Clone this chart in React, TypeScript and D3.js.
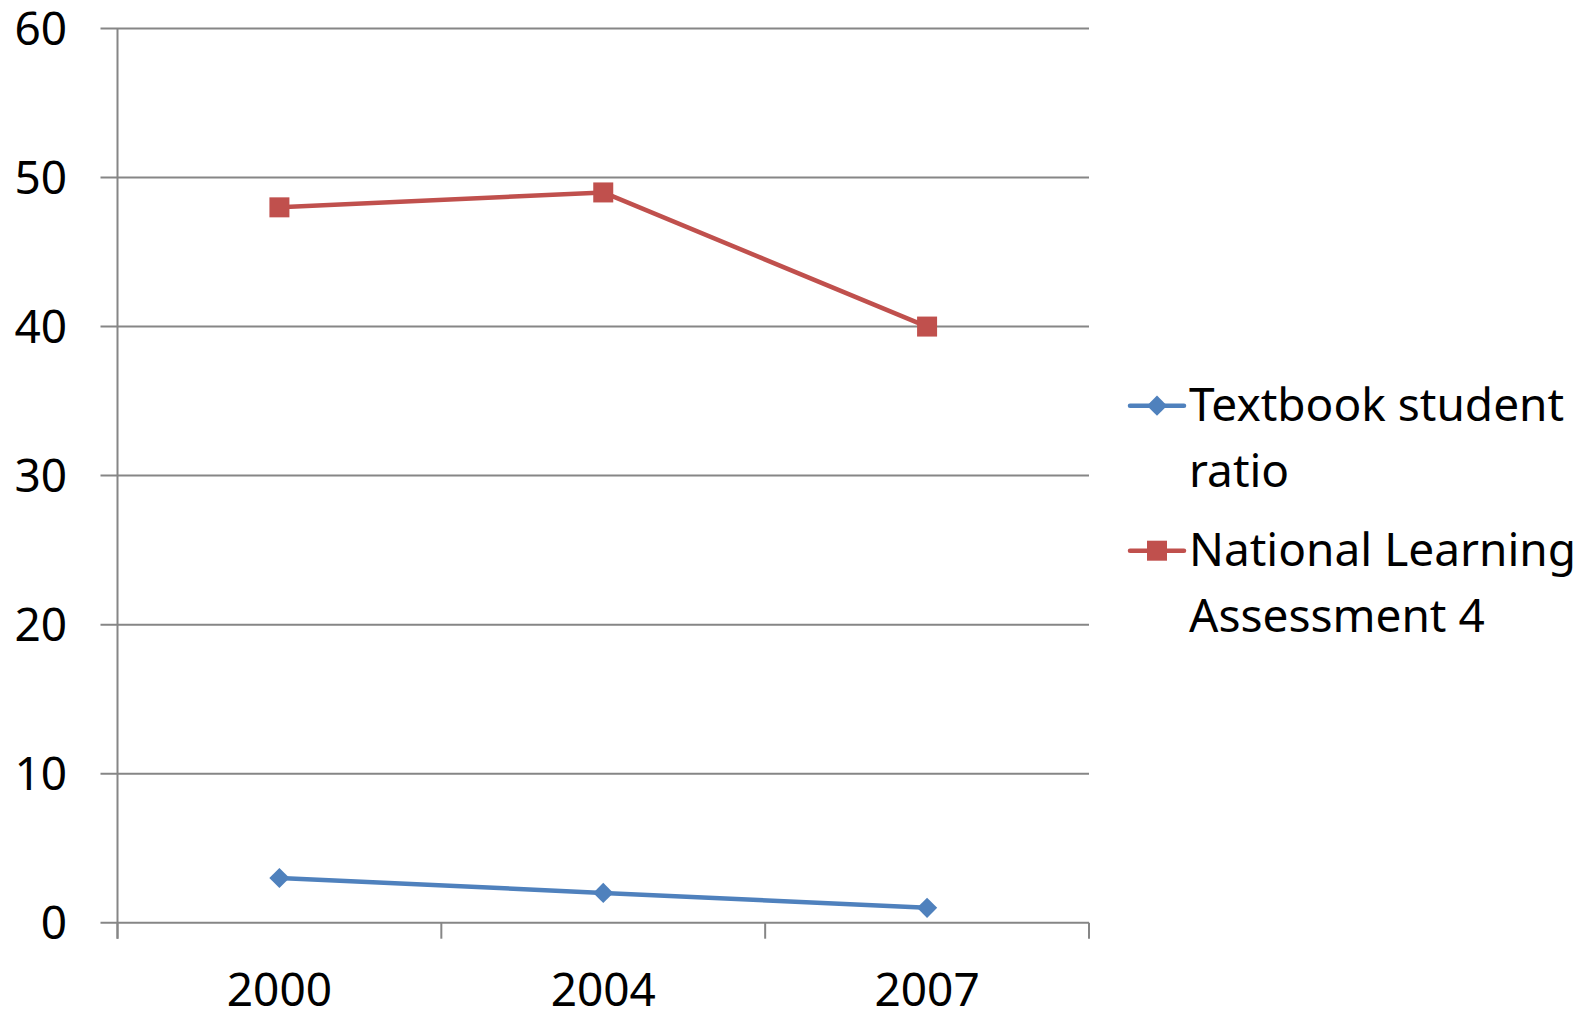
import { useEffect, useRef } from 'react';
import * as d3 from 'd3';

const years = ['2000', '2004', '2007'];
const textbookRatio = [3, 2, 1];
const nla4 = [48, 49, 40];
const yTicks = [0, 10, 20, 30, 40, 50, 60];

const seriesList = [
  { name: ['Textbook student', 'ratio'], values: textbookRatio, color: '#4F81BD', marker: 'diamond' },
  { name: ['National Learning', 'Assessment 4'], values: nla4, color: '#C0504D', marker: 'square' },
];

const App = () => {
  const svgRef = useRef<SVGSVGElement>(null);

  useEffect(() => {
    if (!svgRef.current) return;
    const svg = d3.select(svgRef.current);
    svg.selectAll('*').remove();

    const width = 1585;
    const height = 1018;
    const plot = { left: 117.5, right: 1089, top: 28.5, bottom: 922.7 };
    const font = "'Noto Sans', 'Open Sans', sans-serif";
    const fontSize = '46px';
    const gridColor = '#868686';

    svg.attr('width', width).attr('height', height);
    svg.append('rect').attr('width', width).attr('height', height).attr('fill', '#fff');

    const x = d3.scaleBand().domain(years).range([plot.left, plot.right]);
    const y = d3.scaleLinear().domain([0, 60]).range([plot.bottom, plot.top]);

    // gridlines + y labels
    const yg = svg.append('g');
    yg.selectAll('line')
      .data(yTicks)
      .join('line')
      .attr('x1', plot.left - 17)
      .attr('x2', plot.right)
      .attr('y1', d => y(d))
      .attr('y2', d => y(d))
      .attr('stroke', gridColor)
      .attr('stroke-width', 2);
    yg.selectAll('text')
      .data(yTicks)
      .join('text')
      .attr('x', 67)
      .attr('y', d => y(d))
      .attr('dy', '0.36em')
      .attr('text-anchor', 'end')
      .style('font-family', font)
      .style('font-size', fontSize)
      .style('fill', '#000')
      .text(d => d);

    // y axis line
    svg.append('line')
      .attr('x1', plot.left).attr('x2', plot.left)
      .attr('y1', plot.top).attr('y2', plot.bottom + 16)
      .attr('stroke', gridColor).attr('stroke-width', 2);

    // x tick marks at band edges
    const edges = years.map(d => x(d) as number).concat([plot.right]);
    svg.append('g').selectAll('line')
      .data(edges)
      .join('line')
      .attr('x1', d => d).attr('x2', d => d)
      .attr('y1', plot.bottom).attr('y2', plot.bottom + 16)
      .attr('stroke', gridColor).attr('stroke-width', 2);

    // x labels
    svg.append('g').selectAll('text')
      .data(years)
      .join('text')
      .attr('x', d => (x(d) as number) + x.bandwidth() / 2)
      .attr('y', 1005.7)
      .attr('text-anchor', 'middle')
      .style('font-family', font)
      .style('font-size', fontSize)
      .style('fill', '#000')
      .text(d => d);

    const cx = (i: number) => (x(years[i]) as number) + x.bandwidth() / 2;
    const line = d3.line<number>().x((_, i) => cx(i)).y(d => y(d));

    const drawMarker = (g: any, kind: string, color: string, px: number, py: number) => {
      if (kind === 'square') {
        g.append('rect')
          .attr('x', px - 10).attr('y', py - 10)
          .attr('width', 20).attr('height', 20)
          .attr('fill', color);
      } else {
        g.append('path')
          .attr('d', d3.symbol(d3.symbolDiamond2, 260)())
          .attr('transform', `translate(${px},${py})`)
          .attr('fill', color);
      }
    };

    seriesList.forEach(s => {
      const g = svg.append('g');
      g.append('path')
        .datum(s.values)
        .attr('d', line)
        .attr('fill', 'none')
        .attr('stroke', s.color)
        .attr('stroke-width', 4.5)
        .attr('stroke-linejoin', 'round');
      s.values.forEach((v, i) => drawMarker(g, s.marker, s.color, cx(i), y(v)));
    });

    // legend
    const legendTop = [405.7, 550.7];
    seriesList.forEach((s, i) => {
      const g = svg.append('g');
      const ly = legendTop[i];
      g.append('line')
        .attr('x1', 1130).attr('x2', 1184)
        .attr('y1', ly).attr('y2', ly)
        .attr('stroke', s.color).attr('stroke-width', 4.5)
        .attr('stroke-linecap', 'round');
      drawMarker(g, s.marker, s.color, 1157, ly);
      s.name.forEach((t, j) => {
        g.append('text')
          .attr('x', 1189)
          .attr('y', ly + 15.5 + j * 65.5)
          .style('font-family', font)
          .style('font-size', fontSize)
          .style('fill', '#000')
          .text(t);
      });
    });
  }, []);

  return (
    <div style={{ position: 'absolute', left: 0, top: 0 }}>
      <svg ref={svgRef} style={{ display: 'block' }} />
    </div>
  );
};

export default App;
